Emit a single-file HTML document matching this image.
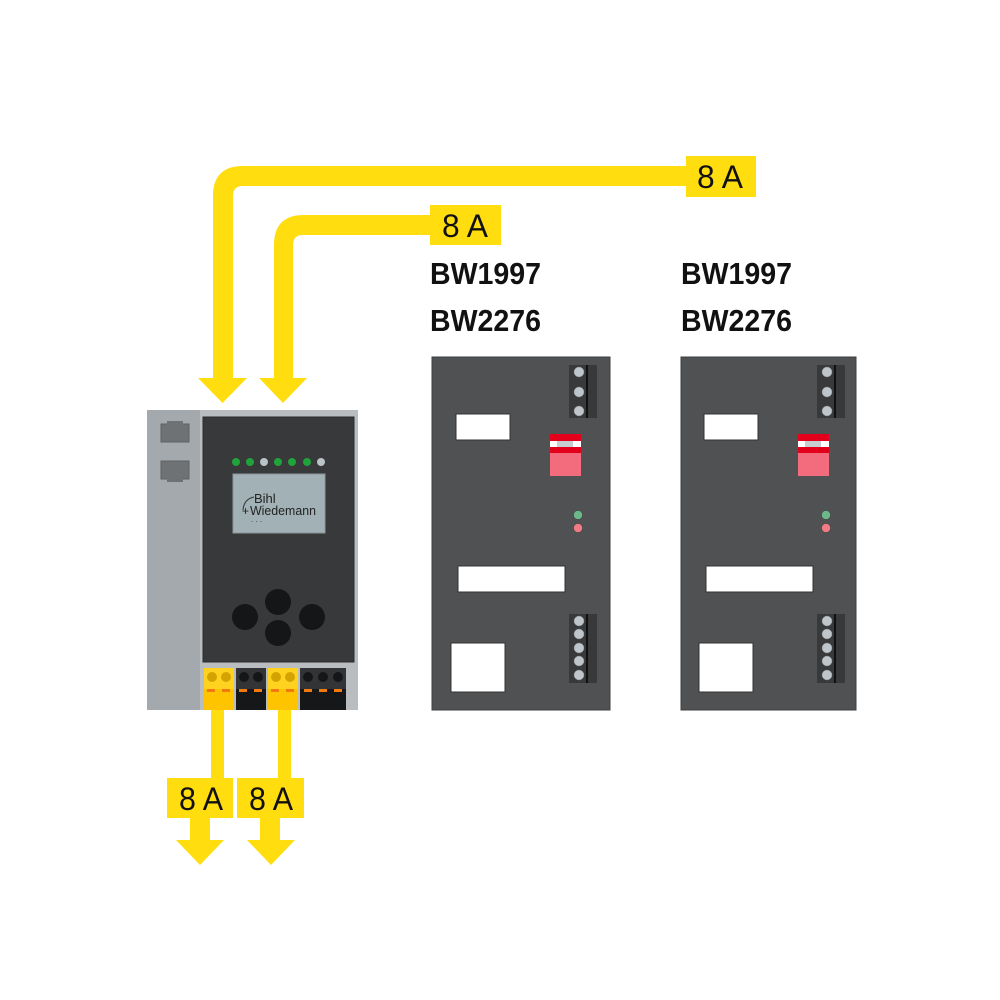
<!DOCTYPE html>
<html><head><meta charset="utf-8"><style>html,body{margin:0;padding:0;background:#fff}svg{display:block}</style></head>
<body>
<svg width="1000" height="1000" viewBox="0 0 1000 1000" xmlns="http://www.w3.org/2000/svg">
<g fill="#FFDD0F">
<path d="M690,166 L243,166 Q213,166 213,196 L213,380 L233,380 L233,196 Q233,186 243,186 L690,186 Z"/>
<polygon points="198,378 247,378 222.5,403"/>
<rect x="686" y="156" width="70" height="41"/>
<path d="M432,215 L304,215 Q274,215 274,245 L274,380 L293,380 L293,245 Q293,235 303,235 L432,235 Z"/>
<polygon points="259,378 307,378 283,403"/>
<rect x="430" y="205" width="71" height="40"/>
<rect x="211" y="710" width="13" height="70"/>
<rect x="278" y="710" width="13" height="70"/>
<rect x="167" y="778" width="66" height="40"/>
<rect x="237" y="778" width="67" height="40"/>
<rect x="190" y="816" width="20" height="26"/>
<polygon points="176,840 224,840 200,865"/>
<rect x="260" y="816" width="20" height="26"/>
<polygon points="247,840 295,840 271,865"/>
</g>
<g font-family="Liberation Sans, sans-serif" font-size="32" fill="#111">
<text x="697" y="188" textLength="46" lengthAdjust="spacingAndGlyphs">8 A</text>
<text x="442" y="237" textLength="46" lengthAdjust="spacingAndGlyphs">8 A</text>
<text x="179" y="810" textLength="44" lengthAdjust="spacingAndGlyphs">8 A</text>
<text x="249" y="810" textLength="44" lengthAdjust="spacingAndGlyphs">8 A</text>
</g>
<g font-family="Liberation Sans, sans-serif" font-size="31" font-weight="bold" fill="#111">
<text x="430" y="284" textLength="111" lengthAdjust="spacingAndGlyphs">BW1997</text>
<text x="430" y="331" textLength="111" lengthAdjust="spacingAndGlyphs">BW2276</text>
<text x="681" y="284" textLength="111" lengthAdjust="spacingAndGlyphs">BW1997</text>
<text x="681" y="331" textLength="111" lengthAdjust="spacingAndGlyphs">BW2276</text>
</g>
<rect x="147" y="410" width="211" height="300" fill="#B9BDC0"/>
<rect x="147" y="410" width="53" height="300" fill="#A4A9AD"/>
<rect x="161" y="424" width="28" height="18" fill="#6F7274" stroke="#5e6163"/>
<rect x="167" y="421" width="16" height="4" fill="#6F7274"/>
<rect x="161" y="461" width="28" height="18" fill="#6F7274" stroke="#5e6163"/>
<rect x="167" y="478" width="16" height="4" fill="#6F7274"/>
<rect x="203" y="417" width="151" height="245" fill="#38393B" stroke="#2a2b2c"/>
<g fill="#1FA33A"><circle cx="236" cy="462" r="4"/><circle cx="250" cy="462" r="4"/><circle cx="278" cy="462" r="4"/><circle cx="292" cy="462" r="4"/><circle cx="307" cy="462" r="4"/></g>
<g fill="#B9C3C8"><circle cx="264" cy="462" r="4"/><circle cx="321" cy="462" r="4"/></g>
<rect x="233" y="474" width="92" height="59" fill="#A2B1B5" stroke="#8a989c"/>
<path d="M243,510 Q244,499 254,497" stroke="#333" fill="none" stroke-width="1"/>
<text x="254" y="503" font-family="Liberation Sans, sans-serif" font-size="13" fill="#222">Bihl</text>
<text x="242" y="515" font-family="Liberation Sans, sans-serif" font-size="12" fill="#222">+</text>
<text x="250" y="515" font-family="Liberation Sans, sans-serif" font-size="13" fill="#222" textLength="66" lengthAdjust="spacingAndGlyphs">Wiedemann</text>
<text x="251" y="522" font-family="Liberation Sans, sans-serif" font-size="8" fill="#333">. . .</text>
<g fill="#151617"><circle cx="278" cy="602" r="13"/><circle cx="245" cy="617" r="13"/><circle cx="312" cy="617" r="13"/><circle cx="278" cy="633" r="13"/></g>
<rect x="204" y="668" width="30" height="21" fill="#FFD21F"/><rect x="204" y="689" width="30" height="21" fill="#FFC400"/>
<rect x="268" y="668" width="30" height="21" fill="#FFD21F"/><rect x="268" y="689" width="30" height="21" fill="#FFC400"/>
<rect x="236" y="668" width="30" height="21" fill="#333436"/><rect x="236" y="689" width="30" height="21" fill="#161718"/>
<rect x="300" y="668" width="46" height="21" fill="#333436"/><rect x="300" y="689" width="46" height="21" fill="#161718"/>
<g fill="#D4A300"><circle cx="212" cy="677" r="5"/><circle cx="226" cy="677" r="5"/><circle cx="276" cy="677" r="5"/><circle cx="290" cy="677" r="5"/></g>
<g fill="#151617"><circle cx="244" cy="677" r="5"/><circle cx="258" cy="677" r="5"/><circle cx="308" cy="677" r="5"/><circle cx="323" cy="677" r="5"/><circle cx="338" cy="677" r="5"/></g>
<g fill="#F07A10"><rect x="207" y="689" width="8" height="3"/><rect x="222" y="689" width="8" height="3"/><rect x="239" y="689" width="8" height="3"/><rect x="254" y="689" width="8" height="3"/><rect x="271" y="689" width="8" height="3"/><rect x="286" y="689" width="8" height="3"/><rect x="304" y="689" width="8" height="3"/><rect x="319" y="689" width="8" height="3"/><rect x="334" y="689" width="8" height="3"/></g>
<defs>
<g id="inner">
<rect x="569" y="365" width="28" height="53" fill="#38393b"/>
<rect x="586" y="365" width="2" height="53" fill="#111"/>
<g fill="#BFC6CB" stroke="#888" stroke-width="0.5"><circle cx="579" cy="372" r="5"/><circle cx="579" cy="392" r="5"/><circle cx="579" cy="411" r="5"/></g>
<rect x="456" y="414" width="54" height="26" fill="#fff" stroke="#333"/>
<rect x="550" y="434" width="31" height="42" fill="#F26C7E"/>
<rect x="550" y="434" width="31" height="19" fill="#E2001A"/>
<rect x="550" y="441" width="31" height="6" fill="#fff"/>
<rect x="557" y="441" width="16" height="6" fill="#C8CDD2"/>
<circle cx="578" cy="515" r="4.5" fill="#6DB88A" stroke="#444" stroke-width="0.5"/>
<circle cx="578" cy="528" r="4.5" fill="#F07A86" stroke="#444" stroke-width="0.5"/>
<rect x="458" y="566" width="107" height="26" fill="#fff" stroke="#333"/>
<rect x="569" y="614" width="28" height="69" fill="#38393b"/>
<rect x="586" y="614" width="2" height="69" fill="#111"/>
<g fill="#BFC6CB" stroke="#888" stroke-width="0.5"><circle cx="579" cy="621" r="5"/><circle cx="579" cy="634" r="5"/><circle cx="579" cy="648" r="5"/><circle cx="579" cy="661" r="5"/><circle cx="579" cy="675" r="5"/></g>
<rect x="451" y="643" width="54" height="49" fill="#fff" stroke="#333"/>
</g>
</defs>
<rect x="432" y="357" width="178" height="353" fill="#505153" stroke="#3e3f40"/>
<use href="#inner"/>
<rect x="681" y="357" width="175" height="353" fill="#505153" stroke="#3e3f40"/>
<use href="#inner" transform="translate(248,0)"/>
</svg>
</body></html>
